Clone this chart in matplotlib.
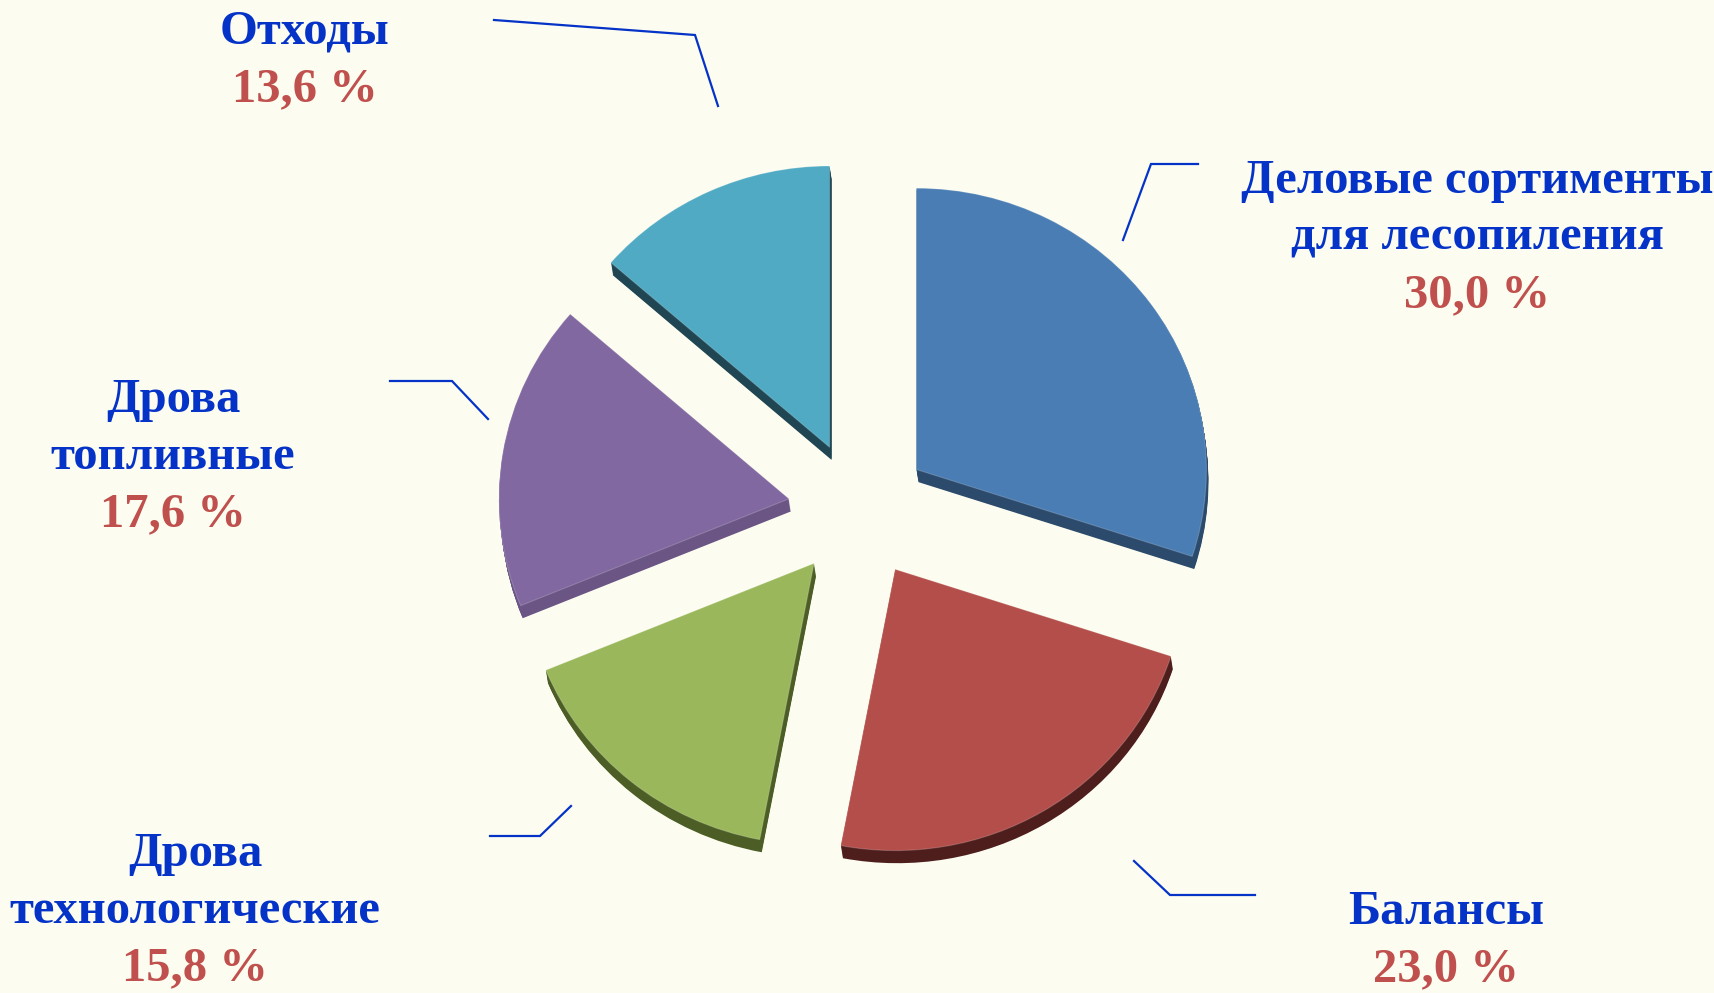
import matplotlib
matplotlib.use("Agg")
import matplotlib.pyplot as plt

# Structure of roundwood harvest by assortment (%)
categories = ["Деловые сортименты\nдля лесопиления", "Балансы",
              "Дрова\nтехнологические", "Дрова\nтопливные", "Отходы"]
shares = [30.0, 23.0, 15.8, 17.6, 13.6]
value_labels = ["30,0 %", "23,0 %", "15,8 %", "17,6 %", "13,6 %"]

face_colors = ["#4A7DB4", "#B44E4A", "#9AB85B", "#8268A0", "#50AAC4"]
side_colors = ["#2B4A6C", "#4E1E1D", "#4C5E26", "#6A5585", "#1F4652"]

W, H = 1715, 993
BG = "#FCFDF0"
tilt = 0.97  # slight vertical foreshortening of the pie

fig = plt.figure(figsize=(W / 100, H / 100), dpi=100, facecolor=BG)

# pie axes: x in pixels, y in pixels / tilt
pax = fig.add_axes([0, 0, 1, 1])
pax.set_facecolor("none")

center = (859, (H - 510) / tilt)
radius = 290
# explode offsets are in data units
explode = [71] * len(shares)

# extruded sides: stack of offset copies of the pie
depth_steps = 13
for i in range(depth_steps, 0, -1):
    pax.pie(shares, startangle=90, counterclock=False,
            explode=explode, radius=radius,
            center=(center[0] + 2 * i / depth_steps, center[1] - i),
            colors=side_colors, normalize=True,
            wedgeprops=dict(linewidth=0))
# top faces
pax.pie(shares, startangle=90, counterclock=False,
        explode=explode, radius=radius, center=center,
        colors=face_colors, normalize=True,
        wedgeprops=dict(linewidth=0.8, edgecolor="#FFFFFF30"))
pax.set_aspect("auto")
pax.set_xlim(0, W)
pax.set_ylim(0, H / tilt)
pax.axis("off")

# annotation axes in plain pixel coordinates
ax = fig.add_axes([0, 0, 1, 1])
ax.set_facecolor("none")
ax.set_xlim(0, W)
ax.set_ylim(0, H)
ax.axis("off")

# labels: (x, y of first line) in pixels, y measured from top
label_pos = [(1477, 181), (1446, 912), (195, 854), (173, 400), (305, 32)]
line_step = 57
font = dict(family="Liberation Serif", fontweight="bold", fontsize=35,
            ha="center", va="center")
for name, val, (x, y) in zip(categories, value_labels, label_pos):
    lines = name.split("\n")
    for k, line in enumerate(lines):
        ax.text(x, H - (y + k * line_step), line, color="#0533C8", **font)
    ax.text(x, H - (y + len(lines) * line_step), val, color="#C0504D", **font)

# leader lines (pixel coordinates from top)
leaders = [
    [(1198, 164), (1151, 164), (1123, 240)],
    [(1134, 861), (1170, 895), (1255, 895)],
    [(490, 836), (540, 836), (571, 806)],
    [(390, 381), (452, 381), (488, 419)],
    [(494, 20), (695, 35), (718, 106)],
]
for pts in leaders:
    xs = [p[0] for p in pts]
    ys = [H - p[1] for p in pts]
    ax.plot(xs, ys, color="#0533C8", linewidth=1.6, solid_joinstyle="miter")

fig.savefig("out.png", dpi=100, facecolor=BG)
